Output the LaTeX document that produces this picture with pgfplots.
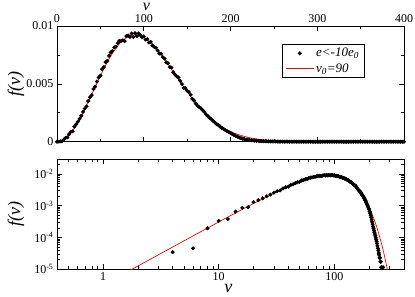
\documentclass[border=0pt]{standalone}
\usepackage{fontspec}
\setmainfont{Liberation Serif}
\usepackage{pgfplots}
\usepackage{pgfplotstable}
\pgfplotsset{compat=1.18}

\pgfplotstableread{
v f
0 0
2 5.6e-6
4 3.4e-5
6 4.5e-5
8 1.94e-4
10 3.3e-4
12 3.8e-4
14 6.5e-4
16 8.6e-4
18 9.0e-4
20 1.30e-3
22 1.50e-3
24 1.72e-3
26 1.98e-3
28 2.24e-3
30 2.58e-3
32 2.86e-3
34 3.05e-3
36 3.52e-3
38 3.85e-3
40 4.02e-3
42 4.55e-3
44 4.76e-3
46 5.20e-3
48 5.55e-3
50 5.71e-3
52 6.28e-3
54 6.45e-3
56 6.88e-3
58 6.98e-3
60 7.42e-3
62 7.71e-3
64 7.85e-3
66 8.15e-3
68 8.22e-3
70 8.52e-3
72 8.72e-3
74 8.71e-3
76 8.76e-3
78 8.70e-3
80 9.12e-3
82 9.18e-3
84 9.05e-3
86 9.35e-3
88 9.06e-3
90 9.38e-3
92 9.12e-3
94 9.36e-3
96 9.22e-3
98 9.02e-3
100 9.10e-3
102 8.82e-3
104 8.86e-3
106 8.58e-3
108 8.62e-3
110 8.32e-3
112 8.20e-3
114 8.12e-3
116 7.88e-3
118 7.62e-3
120 7.60e-3
122 7.30e-3
124 7.18e-3
126 6.85e-3
128 6.78e-3
130 6.45e-3
132 6.40e-3
134 6.00e-3
136 5.80e-3
138 5.65e-3
140 5.55e-3
142 5.26e-3
144 4.98e-3
146 4.65e-3
148 4.62e-3
150 4.40e-3
152 4.30e-3
154 4.05e-3
156 3.70e-3
158 3.55e-3
160 3.30e-3
162 3.10e-3
164 2.98e-3
166 2.88e-3
168 2.72e-3
170 2.56e-3
172 2.34e-3
174 2.20e-3
176 2.05e-3
178 1.94e-3
180 1.80e-3
182 1.66e-3
184 1.52e-3
186 1.43e-3
188 1.30e-3
190 1.20e-3
192 1.09e-3
194 1.00e-3
196 9.1e-4
198 8.3e-4
200 7.5e-4
202 6.6e-4
204 5.8e-4
206 5.0e-4
208 4.3e-4
210 3.6e-4
212 3.1e-4
214 2.6e-4
216 2.2e-4
218 1.9e-4
220 1.65e-4
222 1.45e-4
224 1.28e-4
226 1.12e-4
228 9.6e-5
230 8.4e-5
232 7.4e-5
234 6.4e-5
236 5.4e-5
238 4.5e-5
240 3.9e-5
242 3.2e-5
244 2.8e-5
246 2.26e-5
248 2.26e-5
250 1.70e-5
252 1.70e-5
254 1.13e-5
256 5.6e-6
258 1.13e-5
260 5.6e-6
262 5.6e-6
264 1.13e-5
266 5.6e-6
268 0
270 5.6e-6
272 0
274 5.6e-6
276 0
278 0
280 0
282 0
284 0
286 0
288 0
290 0
292 0
294 0
296 0
298 0
300 0
302 0
304 0
306 0
308 0
310 0
312 0
314 0
316 0
318 0
320 0
322 0
324 0
326 0
328 0
330 0
332 0
334 0
336 0
338 0
340 0
342 0
344 0
346 0
348 0
350 0
352 0
354 0
356 0
358 0
360 0
362 0
364 0
366 0
368 0
370 0
372 0
374 0
376 0
378 0
380 0
382 0
384 0
386 0
388 0
390 0
392 0
394 0
396 0
398 0
400 0
}\histdata

\pgfplotstableread{
v f
1.5 6.963e-6
1.8 1.0026e-5
2 1.2376e-5
3 2.7830e-5
4 4.943e-5
5 7.7154e-5
6 1.1095e-4
8 1.9656e-4
10 3.0577e-4
12 4.3793e-4
14 5.9225e-4
16 7.6785e-4
18 9.6368e-4
20 1.17861e-3
22 1.41141e-3
24 1.66072e-3
26 1.92512e-3
28 2.20312e-3
30 2.49313e-3
32 2.79353e-3
34 3.10266e-3
36 3.41881e-3
38 3.74025e-3
40 4.06527e-3
42 4.39213e-3
44 4.71911e-3
46 5.04452e-3
48 5.36669e-3
50 5.68402e-3
52 5.99493e-3
54 6.29793e-3
56 6.59162e-3
58 6.87461e-3
60 7.14561e-3
62 7.40353e-3
64 7.64714e-3
66 7.87560e-3
68 8.08808e-3
70 8.28372e-3
72 8.46199e-3
74 8.62215e-3
76 8.76385e-3
78 8.88673e-3
80 8.99065e-3
82 9.07548e-3
84 9.14118e-3
86 9.18780e-3
88 9.21557e-3
90 9.22458e-3
92 9.21561e-3
94 9.18876e-3
96 9.14464e-3
98 9.08393e-3
100 9.00720e-3
102 8.91523e-3
104 8.80861e-3
106 8.68828e-3
108 8.55501e-3
110 8.40958e-3
112 8.25311e-3
114 8.08643e-3
116 7.91044e-3
118 7.72606e-3
120 7.53425e-3
122 7.33579e-3
124 7.13166e-3
126 6.92276e-3
128 6.70990e-3
130 6.49406e-3
132 6.27582e-3
134 6.05639e-3
136 5.83616e-3
138 5.61609e-3
140 5.39658e-3
142 5.17845e-3
144 4.96234e-3
146 4.74864e-3
148 4.53803e-3
150 4.33079e-3
152 4.12756e-3
154 3.92848e-3
156 3.73398e-3
158 3.54455e-3
160 3.36033e-3
162 3.18180e-3
164 3.00863e-3
166 2.84158e-3
168 2.68005e-3
170 2.52453e-3
172 2.37501e-3
174 2.23159e-3
176 2.09429e-3
178 1.96294e-3
180 1.83710e-3
182 1.71757e-3
184 1.60374e-3
186 1.49573e-3
188 1.39327e-3
190 1.29613e-3
192 1.20440e-3
194 1.11788e-3
196 1.03628e-3
198 9.5963e-4
200 8.8748e-4
202 8.1977e-4
204 7.5631e-4
206 6.9697e-4
208 6.4152e-4
210 5.8980e-4
212 5.4160e-4
214 4.9677e-4
216 4.5512e-4
218 4.1650e-4
220 3.8067e-4
222 3.4755e-4
224 3.1694e-4
226 2.8869e-4
228 2.6268e-4
230 2.3872e-4
232 2.1671e-4
234 1.9650e-4
236 1.7797e-4
238 1.6101e-4
240 1.4550e-4
250 8.622e-5
260 4.969e-5
270 2.785e-5
280 1.519e-5
290 8.061e-6
300 4.164e-6
320 1.025e-6
350 1.025e-7
400 1.307e-9
}\curvedata

\pgfplotsset{
  myaxis/.style={
    scale only axis,
    width=347pt,
    axis line style={line width=0.8pt},
    every tick/.style={black, line width=0.6pt},
    major tick length=5pt,
    minor tick length=3pt,
    tick label style={font=\fontsize{12}{12}\selectfont},
    /pgf/number format/assume math mode=true,
    label style={font=\fontsize{18}{18}\selectfont},
    xtick pos=both, ytick pos=both,
  },
  histstyle/.style={only marks, mark=*, mark size=1.8pt, black},
  curvestyle/.style={no marks, red, line width=0.7pt},
}

\begin{document}
\begin{tikzpicture}
\useasboundingbox (0pt,0pt) rectangle (415pt,297pt);
\begin{axis}[myaxis,
  at={(57pt,155.3pt)}, anchor=south west,
  height=115.7pt,
  xmin=0, xmax=400, ymin=0, ymax=0.01,
  xtick={0,100,200,300,400},
  minor x tick num=1,
  ytick={0,0.005,0.01},
  yticklabels={0,0.005,0.01},
  minor y tick num=1,
  scaled y ticks=false,
  xticklabel pos=upper,
  xtick pos=both,
  clip=false,
  xlabel={\textit{v}},
  ylabel={\textit{f(v)}},
  xlabel style={at={(axis description cs:0.258,1.195)}, anchor=north, inner sep=0pt, font=\fontsize{16}{16}\selectfont},
  ylabel style={at={(axis description cs:-0.118,0.5)}, anchor=center},
  legend style={at={(0.649,0.844)}, anchor=north west, draw=black, line width=0.5pt,
    font=\fontsize{13}{15}\selectfont, inner xsep=3pt, inner ysep=2pt, row sep=1pt},
  legend cell align=left,
  legend image code/.code={\draw[mark repeat=2,mark phase=2,#1] plot coordinates {(0pt,0pt) (14pt,0pt) (28pt,0pt)};},
]
\addplot[histstyle] table[x=v,y=f] {\histdata};
\addlegendentry{\textit{e<-10e\textsubscript{0}}}
\addplot[curvestyle] table[x=v,y=f] {\curvedata};
\addlegendentry{\textit{v\textsubscript{0}=90}}
\end{axis}

\begin{axis}[myaxis,
  at={(57pt,28pt)}, anchor=south west,
  height=110pt,
  xmode=log, ymode=log,
  xmin=0.4, xmax=400, ymin=1e-5, ymax=0.03,
  xtick={1,10,100}, xticklabels={1,10,100},
  minor xtick={0.4,0.5,0.6,0.7,0.8,0.9,2,3,4,5,6,7,8,9,20,30,40,50,60,70,80,90,200,300,400},
  ytick={1e-5,1e-4,1e-3,1e-2},
  yticklabels={10\textsuperscript{-5},10\textsuperscript{-4},10\textsuperscript{-3},10\textsuperscript{-2}},
  minor ytick={2e-5,3e-5,4e-5,5e-5,6e-5,7e-5,8e-5,9e-5,2e-4,3e-4,4e-4,5e-4,6e-4,7e-4,8e-4,9e-4,2e-3,3e-3,4e-3,5e-3,6e-3,7e-3,8e-3,9e-3,2e-2,3e-2},
  xlabel={\textit{v}},
  ylabel={\textit{f(v)}},
  xlabel style={at={(axis description cs:0.494,-0.18)}, anchor=center},
  ylabel style={at={(axis description cs:-0.118,0.5)}, anchor=center},
]
\addplot[histstyle] table[x=v,y=f] {\histdata};
\addplot[curvestyle] table[x=v,y=f] {\curvedata};
\end{axis}
\end{tikzpicture}
\end{document}
